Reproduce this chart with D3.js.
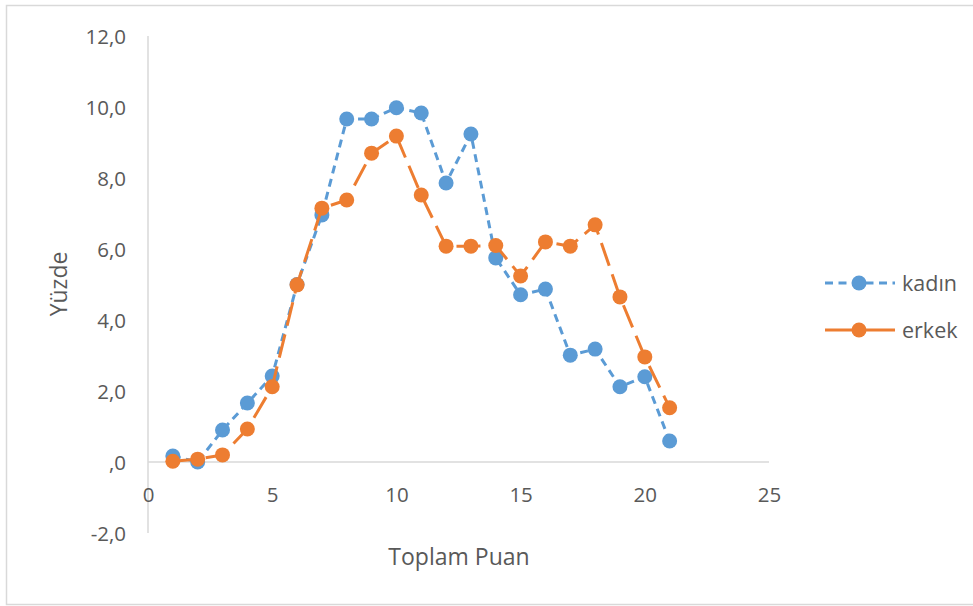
<!DOCTYPE html>
<html><head><meta charset="utf-8">
<script src="https://cdn.jsdelivr.net/npm/d3@7"></script>
<style>html,body{margin:0;padding:0;background:#fff;}svg{display:block;}</style>
</head><body><svg id="c" width="973" height="606"></svg>
<script>
const points = [1,2,3,4,5,6,7,8,9,10,11,12,13,14,15,16,17,18,19,20,21];
const kadin = [0.17,0.0,0.9,1.66,2.42,5.0,6.96,9.66,9.66,9.98,9.83,7.86,9.24,5.75,4.71,4.87,3.01,3.18,2.12,2.4,0.59];
const erkek = [0.02,0.08,0.2,0.93,2.12,4.99,7.15,7.38,8.7,9.18,7.52,6.08,6.08,6.1,5.24,6.2,6.08,6.68,4.65,2.96,1.53];
const xTicks = [0,5,10,15,20,25];
const yTicks = [-2,0,2,4,6,8,10,12];
const seriesNames = ["kadın","erkek"];

const svg = d3.select("#c");
const font = "'Open Sans', Lato, sans-serif";
const textCol = "#595959";
const blue = "#5b9bd5", orange = "#ed7d31";

svg.append("rect").attr("x",6.5).attr("y",5.5).attr("width",1000).attr("height",599)
  .attr("fill","#fff").attr("stroke","#d9d9d9").attr("stroke-width",1.5);

const x = d3.scaleLinear().domain([0,25]).range([148,769]);
const y = d3.scaleLinear().domain([-2,12]).range([533,36]);

svg.append("line").attr("x1",x(0)).attr("x2",x(0)).attr("y1",y(12)).attr("y2",y(-2))
  .attr("stroke","#d9d9d9").attr("stroke-width",1.5);
svg.append("line").attr("x1",x(0)).attr("x2",x(25)).attr("y1",y(0)).attr("y2",y(0))
  .attr("stroke","#d9d9d9").attr("stroke-width",1.5);

const fmtY = v => v===0 ? ",0" : (v<0 ? "-" : "") + Math.abs(v).toFixed(1).replace(".",",");
const yAxis = d3.axisLeft(y).tickValues(yTicks).tickSize(0).tickPadding(0).tickFormat(fmtY);
const gy = svg.append("g").attr("transform",`translate(126,0)`).call(yAxis);
gy.select(".domain").remove();
gy.selectAll("text").attr("font-family",font).attr("font-size",20.5).attr("fill",textCol).attr("dy","0.35em");

const xAxis = d3.axisBottom(x).tickValues(xTicks).tickSize(0).tickPadding(0).tickFormat(d3.format("d"));
const gx = svg.append("g").attr("transform",`translate(0,${y(0)+33})`).call(xAxis);
gx.select(".domain").remove();
gx.selectAll("text").attr("font-family",font).attr("font-size",20.5).attr("fill",textCol).attr("y",0).attr("dy","0.35em");

svg.append("text").attr("x",459).attr("y",557).attr("dy","0.35em").attr("text-anchor","middle")
  .attr("font-family",font).attr("font-size",23).attr("fill",textCol).text("Toplam Puan");
svg.append("text").attr("transform","translate(59,284) rotate(-90)").attr("dy","0.35em").attr("text-anchor","middle")
  .attr("font-family",font).attr("font-size",23).attr("fill",textCol).text("Yüzde");

const line = d3.line().x(d=>x(d[0])).y(d=>y(d[1]));
const series = [
  {name: seriesNames[0], vals: kadin, color: blue, dash: "8,5.5"},
  {name: seriesNames[1], vals: erkek, color: orange, dash: "24,9"}
];
series.forEach(s => {
  const data = points.map((p,i)=>[p,s.vals[i]]);
  svg.append("path").datum(data).attr("d",line).attr("fill","none")
    .attr("stroke",s.color).attr("stroke-width",3).attr("stroke-dasharray",s.dash)
    .attr("stroke-linejoin","round");
  svg.append("g").selectAll("circle").data(data).join("circle")
    .attr("cx",d=>x(d[0])).attr("cy",d=>y(d[1])).attr("r",7.5).attr("fill",s.color);
});

const leg = svg.append("g");
series.forEach((s,i) => {
  const ly = 283 + i*47;
  leg.append("line").attr("x1",825).attr("x2",895).attr("y1",ly).attr("y2",ly)
    .attr("stroke",s.color).attr("stroke-width",3).attr("stroke-dasharray", i===0 ? "8,5.5" : null);
  leg.append("circle").attr("cx",859).attr("cy",ly).attr("r",7.5).attr("fill",s.color);
  leg.append("text").attr("x",902).attr("y",ly).attr("dy","0.35em").attr("font-family",font)
    .attr("font-size",21.5).attr("fill",textCol).text(s.name);
});
</script></body></html>
